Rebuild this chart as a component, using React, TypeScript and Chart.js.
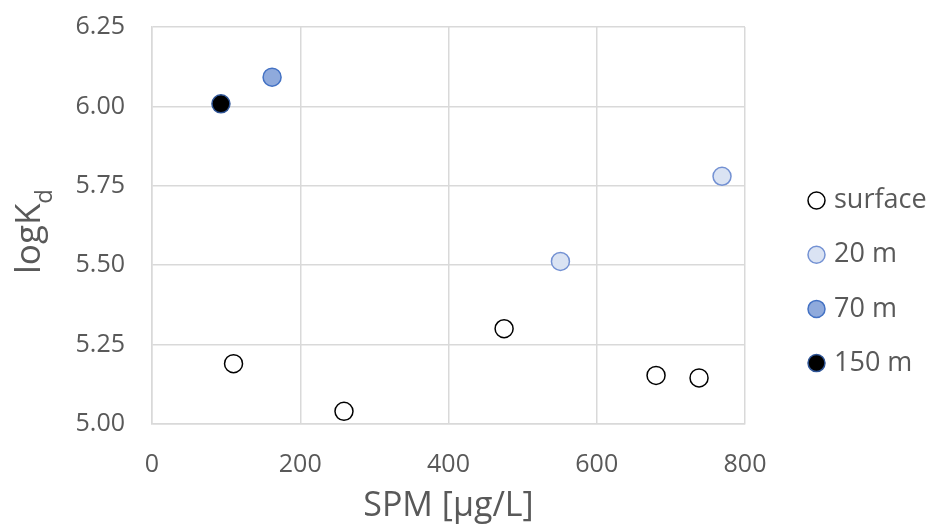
import React, { useEffect, useRef } from "react";
import { Chart, registerables } from "chart.js";
Chart.register(...registerables);

const seriesNames = ["surface", "20 m", "70 m", "150 m"];
const surfaceX = [110, 259, 475, 680, 738];
const surfaceY = [5.19, 5.04, 5.3, 5.153, 5.145];
const m20X = [551, 769];
const m20Y = [5.512, 5.78];
const m70X = [162];
const m70Y = [6.092];
const m150X = [93];
const m150Y = [6.008];
const xTickValues = [0, 200, 400, 600, 800];
const yTickValues = [5.0, 5.25, 5.5, 5.75, 6.0, 6.25];
const xTitle = "SPM [µg/L]";
const yTitleMain = "logK";
const yTitleSub = "d";

const fills = ["#FFFFFF", "#DAE3F3", "#8FAADC", "#000000"];
const borders = ["#000000", "#7391D3", "#4472C4", "#2F5597"];
const FONT = "'Open Sans'";

function pts(xs: number[], ys: number[]) {
  return xs.map((x, i) => ({ x, y: ys[i] }));
}

const overlayPlugin = {
  id: "overlay",
  afterDraw(chart: any) {
    const ctx = chart.ctx;
    const area = chart.chartArea;
    ctx.save();
    // y title with subscript
    const cy = (area.top + area.bottom) / 2 + 6;
    ctx.translate(40, cy);
    ctx.rotate(-Math.PI / 2);
    ctx.fillStyle = "#595959";
    ctx.textBaseline = "alphabetic";
    ctx.font = `35px ${FONT}`;
    const wMain = ctx.measureText(yTitleMain).width;
    ctx.font = `24px ${FONT}`;
    const wSub = ctx.measureText(yTitleSub).width;
    const total = wMain + wSub;
    ctx.font = `35px ${FONT}`;
    ctx.textAlign = "left";
    ctx.fillText(yTitleMain, -total / 2, 0);
    ctx.font = `24px ${FONT}`;
    ctx.fillText(yTitleSub, -total / 2 + wMain, 12);
    ctx.restore();

    // legend
    ctx.save();
    const lx = 816.5;
    const ly0 = 200.5;
    const step = 54.2;
    chart.data.datasets.forEach((ds: any, i: number) => {
      const y = ly0 + i * step;
      ctx.beginPath();
      ctx.arc(lx, y, 8.5, 0, Math.PI * 2);
      ctx.fillStyle = ds.backgroundColor;
      ctx.fill();
      ctx.lineWidth = 1.5;
      ctx.strokeStyle = ds.borderColor;
      ctx.stroke();
      ctx.fillStyle = "#595959";
      ctx.font = `27px ${FONT}`;
      ctx.textAlign = "left";
      ctx.textBaseline = "middle";
      ctx.fillText(ds.label, 834, y);
    });
    ctx.restore();
  },
};

export default function App() {
  const ref = useRef<HTMLCanvasElement>(null);
  useEffect(() => {
    if (!ref.current) return;
    const xsList = [surfaceX, m20X, m70X, m150X];
    const ysList = [surfaceY, m20Y, m70Y, m150Y];
    const chart = new Chart(ref.current, {
      type: "scatter",
      data: {
        datasets: seriesNames.map((name, i) => ({
          label: name,
          data: pts(xsList[i], ysList[i]),
          backgroundColor: fills[i],
          borderColor: borders[i],
          borderWidth: 1.5,
          pointRadius: 9,
          pointHoverRadius: 9,
        })),
      },
      options: {
        responsive: false,
        animation: false,
        layout: { padding: { left: 0, right: 185, top: 27, bottom: 0 } },
        plugins: {
          legend: { display: false },
          tooltip: { enabled: false },
        },
        scales: {
          x: {
            type: "linear",
            min: 0,
            max: 800,
            afterFit: (s: any) => {
              s.height = 103;
              s.paddingLeft = 0;
              s.paddingRight = 0;
            },
            afterBuildTicks: (s: any) => {
              s.ticks = xTickValues.map((v) => ({ value: v }));
            },
            grid: { color: "#D9D9D9", lineWidth: 1.5, drawTicks: false },
            border: { display: true, color: "#D9D9D9", width: 1.5 },
            ticks: {
              padding: 26,
              color: "#595959",
              font: { family: FONT, size: 25 },
              maxRotation: 0,
            },
            title: {
              display: true,
              text: xTitle,
              color: "#595959",
              font: { family: FONT, size: 34 },
              padding: 0,
            },
          },
          y: {
            type: "linear",
            min: 5,
            max: 6.25,
            afterFit: (s: any) => {
              s.width = 152;
              s.paddingTop = 0;
              s.paddingBottom = 0;
            },
            afterBuildTicks: (s: any) => {
              s.ticks = yTickValues.map((v) => ({ value: v }));
            },
            grid: { color: "#D9D9D9", lineWidth: 1.5, drawTicks: false },
            border: { display: true, color: "#D9D9D9", width: 1.5 },
            ticks: {
              padding: 27,
              color: "#595959",
              font: { family: FONT, size: 25 },
              callback: (v: any) => Number(v).toFixed(2),
            },
          },
        },
      },
      plugins: [overlayPlugin],
    });
    return () => chart.destroy();
  }, []);
  return (
    <div style={{ position: "absolute", left: 0, top: 0, width: 930, height: 527, background: "#fff" }}>
      <canvas ref={ref} width={930} height={527} />
    </div>
  );
}
